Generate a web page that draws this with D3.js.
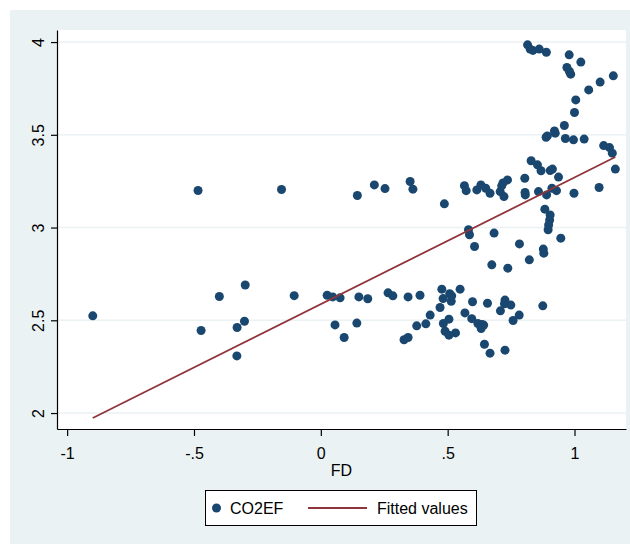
<!DOCTYPE html>
<html>
<head>
<meta charset="utf-8">
<script src="https://cdn.jsdelivr.net/npm/d3@7"></script>
<style>
  html, body { margin: 0; padding: 0; background: #ffffff; }
  svg { display: block; font-family: Arial, "Liberation Sans", Helvetica, sans-serif; }
</style>
</head>
<body>
<svg id="chart" width="630" height="545"></svg>
<script>
// Financial development (FD) against CO2 emission factor (CO2EF)
const fd = [
  -0.899, -0.484, -0.472, -0.400, -0.298, -0.330, -0.301, -0.331, -0.155, -0.105,
  0.025, 0.047, 0.076, 0.056, 0.092, 0.142, 0.150, 0.185, 0.144, 0.211,
  0.253, 0.352, 0.363, 0.265, 0.284, 0.344, 0.391, 0.328, 0.344, 0.378,
  0.414, 0.431, 0.470, 0.477, 0.482, 0.508, 0.516, 0.514, 0.549, 0.598,
  0.657, 0.708, 0.726, 0.724, 0.749, 0.782, 0.758, 0.875, 0.483, 0.505,
  0.490, 0.505, 0.531, 0.568, 0.595, 0.619, 0.635, 0.642, 0.632, 0.645,
  0.667, 0.726, 0.487, 0.566, 0.573, 0.615, 0.631, 0.650, 0.667, 0.707,
  0.713, 0.722, 0.736, 0.718, 0.582, 0.586, 0.683, 0.606, 0.783, 0.674,
  0.737, 0.804, 0.805, 0.806, 0.858, 0.890, 0.911, 0.929, 0.829, 0.854,
  0.868, 0.904, 0.913, 0.937, 0.998, 1.097, 1.161, 1.115, 1.138, 1.149,
  0.883, 0.904, 0.902, 0.898, 0.896, 0.946, 0.877, 0.879, 0.822, 0.815,
  0.825, 0.836, 0.861, 0.889, 0.979, 1.025, 0.970, 0.980, 0.985, 1.153,
  1.101, 1.056, 1.005, 1.000, 0.960, 0.921, 0.924, 0.888, 0.893, 0.964,
  0.996, 1.038
];
const co2ef = [
  2.524, 3.200, 2.445, 2.628, 2.690, 2.461, 2.495, 2.308, 3.205, 2.633,
  2.635, 2.626, 2.621, 2.475, 2.407, 2.485, 2.626, 2.616, 3.173, 3.230,
  3.210, 3.248, 3.207, 2.648, 2.632, 2.626, 2.635, 2.395, 2.407, 2.470,
  2.481, 2.528, 2.569, 2.668, 2.617, 2.643, 2.632, 2.603, 2.668, 2.600,
  2.592, 2.551, 2.609, 2.589, 2.582, 2.528, 2.499, 2.578, 2.483, 2.506,
  2.441, 2.420, 2.432, 2.540, 2.509, 2.483, 2.477, 2.474, 2.456, 2.371,
  2.323, 2.339, 3.128, 3.226, 3.199, 3.203, 3.230, 3.212, 3.185, 3.194,
  3.225, 3.167, 3.257, 3.240, 2.988, 2.961, 2.970, 2.898, 2.912, 2.799,
  2.781, 3.266, 3.189, 3.176, 3.194, 3.176, 3.212, 3.199, 3.360, 3.338,
  3.306, 3.307, 3.315, 3.272, 3.185, 3.216, 3.315, 3.442, 3.431, 3.401,
  3.099, 3.068, 3.041, 3.014, 2.988, 2.943, 2.884, 2.862, 2.826, 3.985,
  3.962, 3.955, 3.962, 3.945, 3.931, 3.892, 3.863, 3.841, 3.827, 3.818,
  3.784, 3.742, 3.688, 3.620, 3.550, 3.521, 3.509, 3.487, 3.494, 3.480,
  3.473, 3.477
];

// Fitted values at the ends of the FD range
const fitFD = [-0.899, 1.161];
const fitValues = [1.973, 3.380];

const xTicks = [-1, -0.5, 0, 0.5, 1];
const xTickLabels = ["-1", "-.5", "0", ".5", "1"];
const yTicks = [2, 2.5, 3, 3.5, 4];
const yTickLabels = ["2", "2.5", "3", "3.5", "4"];

const legendLabels = ["CO2EF", "Fitted values"];

const colors = {
  region: "#EAF2F3",
  grid: "#EAF2F3",
  dot: "#1A476F",
  fit: "#90353B"
};

const svg = d3.select("#chart");
const W = 630, H = 545;
const m = { left: 57, right: 4, top: 30, bottom: 116 };

// Graph region
svg.append("rect").attr("x", 10).attr("y", 10)
  .attr("width", W - 10).attr("height", 534)
  .attr("fill", colors.region);

// Plot region
svg.append("rect").attr("x", m.left).attr("y", m.top)
  .attr("width", W - m.left - m.right).attr("height", H - m.top - m.bottom)
  .attr("fill", "#ffffff");

const x = d3.scaleLinear().domain([-1.04, 1.203]).range([m.left, W - m.right]);
const y = d3.scaleLinear().domain([1.914, 4.065]).range([H - m.bottom, m.top]);

// Horizontal grid lines
svg.append("g").selectAll("line").data(yTicks).join("line")
  .attr("x1", m.left).attr("x2", W - m.right)
  .attr("y1", d => y(d)).attr("y2", d => y(d))
  .attr("stroke", colors.grid).attr("stroke-width", 1.5);

// Y axis
const yAxis = svg.append("g")
  .attr("transform", `translate(${m.left},0)`)
  .call(d3.axisLeft(y).tickValues(yTicks)
    .tickFormat((d, i) => yTickLabels[i]).tickSize(6).tickSizeOuter(0));
yAxis.select(".domain").attr("stroke", "#000").attr("stroke-width", 1.2);
yAxis.selectAll(".tick line").attr("stroke", "#000").attr("stroke-width", 1.2);
yAxis.selectAll(".tick text")
  .attr("font-size", 16).attr("fill", "#000")
  .attr("text-anchor", "middle")
  .attr("transform", "rotate(-90)")
  .attr("x", 0).attr("y", -13).attr("dy", 0);

// X axis
const xAxis = svg.append("g")
  .attr("transform", `translate(0,${H - m.bottom})`)
  .call(d3.axisBottom(x).tickValues(xTicks)
    .tickFormat((d, i) => xTickLabels[i]).tickSize(7).tickSizeOuter(0));
xAxis.select(".domain").attr("stroke", "#000").attr("stroke-width", 1.2);
xAxis.selectAll(".tick line").attr("stroke", "#000").attr("stroke-width", 1.2);
xAxis.selectAll(".tick text")
  .attr("font-size", 16).attr("fill", "#000")
  .attr("y", 30).attr("dy", 0);

// Axis title
svg.append("text")
  .attr("x", (m.left + W - m.right) / 2).attr("y", 476)
  .attr("text-anchor", "middle").attr("font-size", 16).attr("fill", "#000")
  .text("FD");

// Scatter points
svg.append("g").selectAll("circle").data(fd.map((v, i) => [v, co2ef[i]])).join("circle")
  .attr("cx", d => x(d[0])).attr("cy", d => y(d[1]))
  .attr("r", 4.5).attr("fill", colors.dot);

// Linear fit
svg.append("path")
  .datum(fitFD.map((v, i) => [v, fitValues[i]]))
  .attr("d", d3.line().x(d => x(d[0])).y(d => y(d[1])))
  .attr("fill", "none").attr("stroke", colors.fit).attr("stroke-width", 1.8);

// Legend
const lg = svg.append("g");
lg.append("rect").attr("x", 205.5).attr("y", 490.5).attr("width", 271).attr("height", 35)
  .attr("fill", "#fff").attr("stroke", "#000").attr("stroke-width", 1);
lg.append("circle").attr("cx", 216.5).attr("cy", 508).attr("r", 4.5).attr("fill", colors.dot);
lg.append("text").attr("x", 230).attr("y", 514).attr("font-size", 16).attr("fill", "#000")
  .text(legendLabels[0]);
lg.append("line").attr("x1", 308).attr("x2", 367).attr("y1", 508).attr("y2", 508)
  .attr("stroke", colors.fit).attr("stroke-width", 1.8);
lg.append("text").attr("x", 377).attr("y", 514).attr("font-size", 16).attr("fill", "#000")
  .text(legendLabels[1]);
</script>
</body>
</html>
